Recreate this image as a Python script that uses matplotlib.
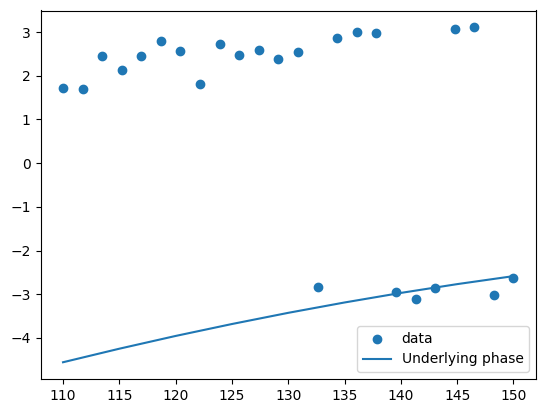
import numpy as np
import matplotlib
matplotlib.use("Agg")
import matplotlib.pyplot as plt

# scatter data
x_data = [110.0, 111.74, 113.48, 115.22, 116.96, 118.70, 120.43, 122.17,
          123.91, 125.65, 127.39, 129.13, 130.87, 132.61, 134.35, 136.09,
          137.83, 139.57, 141.30, 143.04, 144.78, 146.52, 148.26, 150.0]
y_data = [1.72, 1.70, 2.46, 2.13, 2.46, 2.80, 2.57, 1.82,
          2.73, 2.48, 2.59, 2.38, 2.54, -2.84, 2.86, 3.00,
          2.98, -2.96, -3.12, -2.85, 3.07, 3.11, -3.01, -2.63]

# underlying phase curve
x_line = [110, 115, 120, 125, 130, 135, 140, 145, 150]
y_line = [-4.557, -4.247, -3.955, -3.682, -3.426, -3.189, -2.970, -2.769, -2.586]

fig = plt.figure(figsize=(5.46, 4.13), dpi=100)
ax = fig.add_axes([40.5 / 546, (413 - 379) / 413, 495.5 / 546, 368.5 / 413])
ax.scatter(x_data, y_data, label="data")
ax.plot(x_line, y_line, label="Underlying phase")
ax.legend(loc="lower right")
fig.savefig("out.png", dpi=100)
